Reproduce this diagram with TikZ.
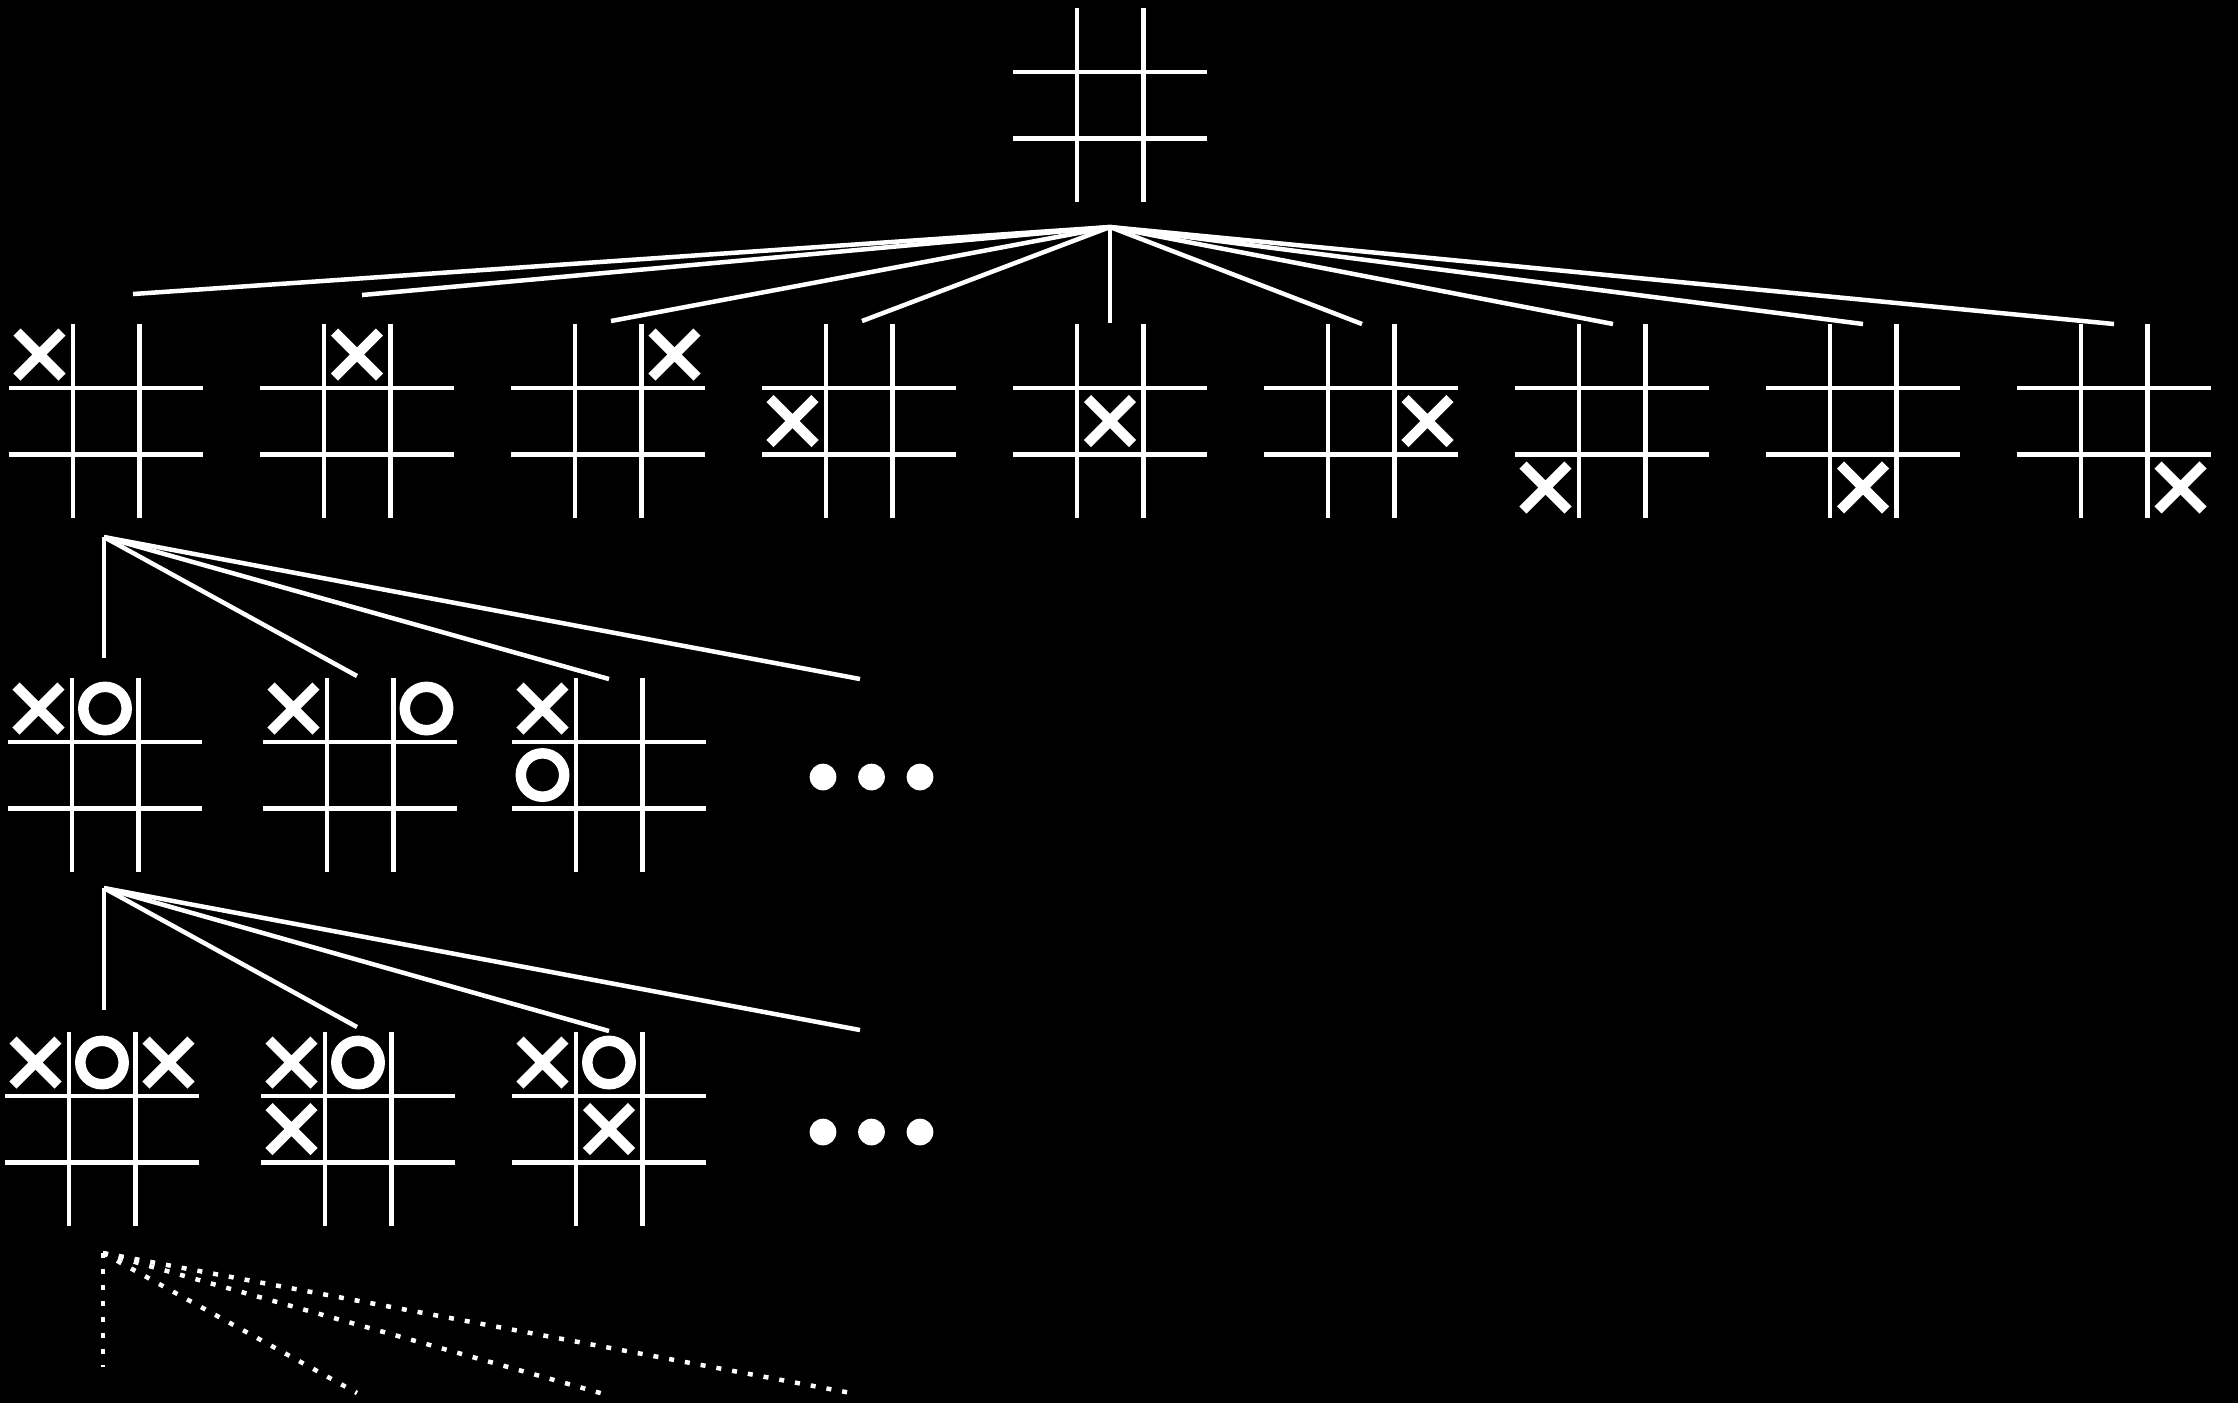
\documentclass[tikz,border=0pt]{standalone}
\usepackage{tikz}
\usepackage{xcolor}
\definecolor{chalk}{HTML}{FFFFFF}
\definecolor{slate}{HTML}{000000}
\tikzset{
  gridline/.style={draw=chalk,line width=0.45mm},
  branch/.style={draw=chalk,line width=0.45mm},
  pending/.style={branch,dash pattern=on 0.5mm off 1.1mm},
  xstroke/.style={draw=chalk,line width=1.0mm},
  ostroke/.style={draw=chalk,line width=1.05mm},
  dotnode/.style={circle,fill=chalk,minimum size=2.67mm,inner sep=0pt},
  board/.pic={
    \draw[gridline] (-97,-33.25) -- (97,-33.25);
    \draw[gridline] (-97,33.25) -- (97,33.25);
    \draw[gridline] (-33.25,-97) -- (-33.25,97);
    \draw[gridline] (33.25,-97) -- (33.25,97);
    \foreach \r/\dy in {1/-66.5,2/0,3/66.5}
      \foreach \c/\dx in {1/-66.5,2/0,3/66.5}
        \coordinate (-\r\c) at (\dx,\dy);
  },
  xmark/.pic={
    \draw[xstroke] (-22.5,-22.5) -- (22.5,22.5) (-22.5,22.5) -- (22.5,-22.5);
  },
  omark/.pic={
    \draw[ostroke] (0,0) circle[radius=2.17mm];
  },
}

\begin{document}
\begin{tikzpicture}[x=0.1mm,y=-0.1mm]

\fill[slate] (0,0) rectangle (2238,1403);
\useasboundingbox (0,0) rectangle (2238,1403);

\pic (root) at (1110,105) {board};

\pic (m1) at (106,421) {board};
\pic (m2) at (357,421) {board};
\pic (m3) at (608,421) {board};
\pic (m4) at (859,421) {board};
\pic (m5) at (1110,421) {board};
\pic (m6) at (1361,421) {board};
\pic (m7) at (1612,421) {board};
\pic (m8) at (1863,421) {board};
\pic (m9) at (2114,421) {board};
\pic at (m1-11) {xmark};
\pic at (m2-12) {xmark};
\pic at (m3-13) {xmark};
\pic at (m4-21) {xmark};
\pic at (m5-22) {xmark};
\pic at (m6-23) {xmark};
\pic at (m7-31) {xmark};
\pic at (m8-32) {xmark};
\pic at (m9-33) {xmark};

\coordinate (root-fan) at (1110,227);
\coordinate (m1-tip) at (133,294);
\coordinate (m2-tip) at (362,295);
\coordinate (m3-tip) at (611,321);
\coordinate (m4-tip) at (862,321);
\coordinate (m5-tip) at (1110,323);
\coordinate (m6-tip) at (1362,324);
\coordinate (m7-tip) at (1613,324);
\coordinate (m8-tip) at (1863,324);
\coordinate (m9-tip) at (2114,324);
\draw[branch] (root-fan) -- (m1-tip);
\draw[branch] (root-fan) -- (m2-tip);
\draw[branch] (root-fan) -- (m3-tip);
\draw[branch] (root-fan) -- (m4-tip);
\draw[branch] (root-fan) -- (m5-tip);
\draw[branch] (root-fan) -- (m6-tip);
\draw[branch] (root-fan) -- (m7-tip);
\draw[branch] (root-fan) -- (m8-tip);
\draw[branch] (root-fan) -- (m9-tip);

\pic (p1) at (105,775) {board};
\pic (p2) at (360,775) {board};
\pic (p3) at (609,775) {board};
\pic at (p1-11) {xmark};
\pic at (p1-12) {omark};
\pic at (p2-11) {xmark};
\pic at (p2-13) {omark};
\pic at (p3-11) {xmark};
\pic at (p3-21) {omark};
\node[dotnode] (pmore1) at (823,777) {};
\node[dotnode] (pmore2) at (871.5,777) {};
\node[dotnode] (pmore3) at (920,777) {};

\coordinate (m1-fan) at (104,537);
\coordinate (p1-tip) at (104,658);
\coordinate (p2-tip) at (357,676);
\coordinate (p3-tip) at (609,679);
\coordinate (pmore-tip) at (860,679);
\draw[branch] (m1-fan) -- (p1-tip);
\draw[branch] (m1-fan) -- (p2-tip);
\draw[branch] (m1-fan) -- (p3-tip);
\draw[branch] (m1-fan) -- (pmore-tip);

\pic (q1) at (102,1129) {board};
\pic (q2) at (358,1129) {board};
\pic (q3) at (609,1129) {board};
\pic at (q1-11) {xmark};
\pic at (q1-12) {omark};
\pic at (q1-13) {xmark};
\pic at (q2-11) {xmark};
\pic at (q2-12) {omark};
\pic at (q2-21) {xmark};
\pic at (q3-11) {xmark};
\pic at (q3-12) {omark};
\pic at (q3-22) {xmark};
\node[dotnode] (qmore1) at (823,1132) {};
\node[dotnode] (qmore2) at (871.5,1132) {};
\node[dotnode] (qmore3) at (920,1132) {};

\coordinate (p1-fan) at (104,888);
\coordinate (q1-tip) at (104,1010);
\coordinate (q2-tip) at (357,1027);
\coordinate (q3-tip) at (609,1031);
\coordinate (qmore-tip) at (860,1030);
\draw[branch] (p1-fan) -- (q1-tip);
\draw[branch] (p1-fan) -- (q2-tip);
\draw[branch] (p1-fan) -- (q3-tip);
\draw[branch] (p1-fan) -- (qmore-tip);

\coordinate (q1-fan) at (103,1253);
\coordinate (r1-tip) at (103,1367);
\coordinate (r2-tip) at (357,1393);
\coordinate (r3-tip) at (604,1394);
\coordinate (r4-tip) at (851,1393);
\draw[pending] (q1-fan) -- (r1-tip);
\draw[pending] (q1-fan) -- (r2-tip);
\draw[pending] (q1-fan) -- (r3-tip);
\draw[pending] (q1-fan) -- (r4-tip);

\end{tikzpicture}
\end{document}
